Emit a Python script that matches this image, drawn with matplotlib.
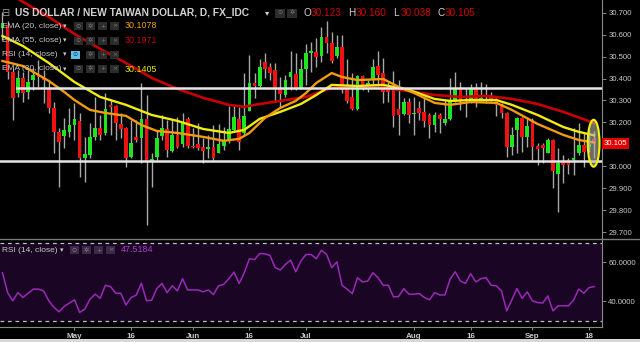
import matplotlib
matplotlib.use("Agg")
import matplotlib.pyplot as plt
import matplotlib.transforms as mtransforms
from matplotlib.patches import Ellipse, Rectangle
from matplotlib.lines import Line2D
import pandas as pd

plt.rcParams['font.family'] = ['Liberation Sans', 'DejaVu Sans']

# daily bars, USD/TWD (FX_IDC)
dates = pd.bdate_range("2017-04-11", "2017-09-19")

opens = [30.630, 30.644, 30.430, 30.334, 30.403, 30.339, 30.393, 30.416, 30.407, 30.357,
         30.266, 30.157, 30.138, 30.157, 30.188, 30.207, 30.038, 30.052, 30.134, 30.175,
         30.152, 30.280, 30.275, 30.193, 30.175, 30.043, 30.134, 30.129, 30.216, 30.020,
         30.043, 30.138, 30.170, 30.070, 30.143, 30.102, 30.216, 30.093, 30.102, 30.088,
         30.079, 30.088, 30.061, 30.093, 30.116, 30.166, 30.216, 30.152, 30.252, 30.380,
         30.366, 30.476, 30.453, 30.439, 30.353, 30.325, 30.407, 30.421, 30.357, 30.444,
         30.517, 30.521, 30.503, 30.589, 30.562, 30.503, 30.544, 30.357, 30.316, 30.261,
         30.412, 30.362, 30.393, 30.457, 30.425, 30.357, 30.357, 30.261, 30.239, 30.293,
         30.239, 30.266, 30.248, 30.234, 30.188, 30.234, 30.198, 30.216, 30.302, 30.357,
         30.298, 30.302, 30.357, 30.302, 30.316, 30.325, 30.307, 30.280, 30.243, 30.088,
         30.166, 30.220, 30.134, 30.211, 30.093, 30.097, 30.061, 30.120, 29.965, 30.015,
         30.029, 30.029, 30.061, 30.097, 30.088, 30.123]
highs = [30.703, 30.660, 30.445, 30.439, 30.430, 30.439, 30.448, 30.485, 30.439, 30.393,
         30.293, 30.175, 30.220, 30.266, 30.289, 30.243, 30.134, 30.198, 30.316, 30.234,
         30.334, 30.302, 30.280, 30.243, 30.179, 30.211, 30.211, 30.380, 30.325, 30.061,
         30.166, 30.234, 30.211, 30.211, 30.225, 30.243, 30.225, 30.175, 30.198, 30.129,
         30.143, 30.188, 30.193, 30.179, 30.275, 30.280, 30.271, 30.425, 30.507, 30.425,
         30.489, 30.517, 30.471, 30.471, 30.407, 30.416, 30.526, 30.517, 30.489, 30.558,
         30.567, 30.585, 30.635, 30.662, 30.612, 30.598, 30.598, 30.489, 30.425, 30.416,
         30.416, 30.393, 30.489, 30.526, 30.494, 30.384, 30.435, 30.393, 30.312, 30.312,
         30.316, 30.298, 30.316, 30.243, 30.248, 30.243, 30.302, 30.403, 30.430, 30.384,
         30.357, 30.375, 30.380, 30.384, 30.375, 30.339, 30.312, 30.289, 30.248, 30.179,
         30.225, 30.225, 30.225, 30.220, 30.107, 30.107, 30.129, 30.125, 30.084, 30.052,
         30.038, 30.175, 30.198, 30.157, 30.166, 30.160]
lows = [30.576, 30.400, 30.211, 30.316, 30.293, 30.307, 30.348, 30.362, 30.289, 30.243,
        30.061, 29.906, 30.084, 30.134, 30.120, 29.952, 29.929, 30.038, 30.120, 30.120,
        30.143, 30.143, 30.120, 30.129, 29.997, 30.038, 30.111, 30.015, 29.733, 29.906,
        30.029, 30.120, 30.043, 30.066, 30.084, 30.088, 30.084, 30.084, 30.075, 30.015,
        30.038, 30.029, 30.061, 30.075, 30.107, 30.157, 30.075, 30.143, 30.252, 30.312,
        30.362, 30.403, 30.393, 30.293, 30.271, 30.316, 30.348, 30.348, 30.353, 30.371,
        30.430, 30.453, 30.476, 30.517, 30.471, 30.494, 30.334, 30.289, 30.257, 30.257,
        30.348, 30.339, 30.371, 30.362, 30.289, 30.293, 30.179, 30.143, 30.234, 30.198,
        30.143, 30.211, 30.179, 30.129, 30.157, 30.152, 30.188, 30.211, 30.293, 30.257,
        30.225, 30.289, 30.271, 30.293, 30.289, 30.298, 30.230, 30.220, 30.043, 30.052,
        30.061, 30.066, 30.088, 30.029, 30.006, 30.015, 30.061, 29.901, 29.792, 29.924,
        29.965, 29.961, 30.052, 29.997, 30.066, 30.038]
closes = [30.653, 30.430, 30.312, 30.403, 30.334, 30.384, 30.416, 30.407, 30.393, 30.266,
          30.157, 30.111, 30.166, 30.188, 30.216, 30.038, 30.056, 30.134, 30.175, 30.143,
          30.261, 30.271, 30.198, 30.170, 30.038, 30.107, 30.120, 30.216, 30.020, 30.034,
          30.129, 30.175, 30.075, 30.143, 30.088, 30.202, 30.093, 30.090, 30.084, 30.070,
          30.088, 30.038, 30.102, 30.116, 30.170, 30.225, 30.111, 30.230, 30.380, 30.366,
          30.453, 30.444, 30.425, 30.357, 30.330, 30.393, 30.430, 30.353, 30.444, 30.517,
          30.526, 30.498, 30.589, 30.562, 30.480, 30.544, 30.348, 30.298, 30.261, 30.412,
          30.357, 30.380, 30.453, 30.416, 30.339, 30.339, 30.230, 30.234, 30.293, 30.234,
          30.243, 30.243, 30.207, 30.188, 30.234, 30.216, 30.216, 30.302, 30.357, 30.298,
          30.296, 30.353, 30.298, 30.312, 30.325, 30.307, 30.280, 30.243, 30.088, 30.143,
          30.220, 30.134, 30.184, 30.088, 30.079, 30.084, 30.120, 29.979, 30.015, 30.006,
          30.006, 30.038, 30.097, 30.066, 30.102, 30.105]

rsi = [54.7, 44.4, 40.2, 44.4, 41.9, 44.1, 46.2, 46.2, 45.3, 40.2,
       36.8, 34.5, 37.3, 39.0, 40.7, 34.2, 35.9, 41.0, 43.6, 41.5,
       48.2, 47.5, 44.1, 44.1, 38.0, 41.9, 43.1, 49.2, 40.2, 40.5,
       46.5, 49.2, 44.4, 47.9, 45.3, 51.6, 45.8, 45.8, 45.8, 44.8,
       45.8, 43.4, 47.9, 48.7, 51.6, 55.0, 49.1, 54.7, 61.9, 61.5,
       64.6, 64.4, 63.6, 57.3, 56.1, 59.0, 61.2, 55.2, 60.7, 64.1,
       64.1, 61.9, 66.3, 64.1, 57.3, 60.3, 48.2, 46.2, 43.9, 52.1,
       49.9, 50.4, 54.7, 52.1, 48.2, 48.2, 42.2, 42.4, 46.5, 43.6,
       43.6, 43.9, 41.9, 40.7, 44.4, 43.2, 43.2, 51.3, 55.2, 50.4,
       49.2, 54.2, 49.9, 51.6, 52.1, 48.2, 47.9, 45.3, 35.0, 40.7,
       46.5, 41.4, 44.8, 40.2, 39.3, 39.0, 42.7, 35.0, 37.6, 37.6,
       37.6, 40.5, 46.2, 44.1, 47.0, 47.5]

# moving averages at some bars (bar number, value)
ema20_bar = [0, 4, 9, 12, 14, 17, 20, 24, 27, 30, 34, 39, 43, 46, 48, 51, 54, 57,
             59, 61, 64, 66, 69, 74, 77, 80, 84, 87, 91, 96, 99, 104, 109, 112, 115]
ema20_val = [30.480, 30.457, 30.389, 30.339, 30.302, 30.257, 30.243, 30.230, 30.188,
             30.161, 30.152, 30.134, 30.116, 30.125, 30.152, 30.220, 30.266, 30.298,
             30.334, 30.380, 30.425, 30.407, 30.393, 30.398, 30.362, 30.334, 30.289,
             30.280, 30.293, 30.289, 30.257, 30.193, 30.143, 30.120, 30.108]
ema30_bar = [0, 4, 9, 14, 19, 24, 29, 34, 39, 44, 47, 50, 54, 58, 61, 64, 69, 74,
             79, 84, 87, 91, 96, 99, 104, 109, 112, 115]
ema30_val = [30.594, 30.548, 30.471, 30.384, 30.316, 30.280, 30.234, 30.207, 30.170,
             30.152, 30.166, 30.216, 30.248, 30.284, 30.325, 30.371, 30.366, 30.371,
             30.348, 30.307, 30.298, 30.302, 30.302, 30.280, 30.234, 30.179, 30.157,
             30.141]
ema55_bar = [0, 4, 9, 14, 19, 24, 29, 34, 39, 44, 47, 49, 54, 59, 64, 69, 74, 79,
             84, 89, 94, 99, 104, 109, 115]
ema55_val = [30.808, 30.749, 30.681, 30.603, 30.535, 30.471, 30.403, 30.353, 30.312,
             30.280, 30.271, 30.280, 30.298, 30.316, 30.357, 30.366, 30.357, 30.343,
             30.325, 30.316, 30.321, 30.307, 30.284, 30.248, 30.197]

ema20_last = 30.1078
ema55_last = 30.1971
ema30_last = 30.1405
rsi_last = 47.5184

resistance = 30.358
support = 30.026

price_ticks = [30.7, 30.6, 30.5, 30.4, 30.3, 30.2, 30.0, 29.9, 29.8, 29.7]
rsi_ticks = [60, 40]
tick_dates = ["2017-05-01", "2017-05-16", "2017-06-01", "2017-06-16", "2017-07-03",
              "2017-08-01", "2017-08-16", "2017-09-01", "2017-09-18"]
tick_labels = ["May", "16", "Jun", "16", "Jul", "Aug", "16", "Sep", "18"]

W, H = 640, 342
def fx(x):
    return x / W
def fy(y):
    return 1 - y / H

GREEN = '#1ee61e'
RED = '#f01212'
WICK = '#a8a8a8'
AXC = '#8a8a8a'
TXT = '#c8c8c8'

fig = plt.figure(figsize=(6.4, 3.42), dpi=100, facecolor='black')
ax = fig.add_axes([0, fy(238), fx(602), 238 / H])
ax2 = fig.add_axes([0, fy(327), fx(602), 88 / H], sharex=ax)
for a in (ax, ax2):
    a.set_facecolor('black')
    for s in a.spines.values():
        s.set_visible(False)
    a.spines['right'].set_visible(True)
    a.spines['right'].set_color(AXC)
    a.spines['right'].set_linewidth(0.8)
ax2.spines['bottom'].set_visible(True)
ax2.spines['bottom'].set_color(AXC)
ax2.spines['bottom'].set_linewidth(0.8)

xs = list(range(len(dates)))

# candles
for x, o, h, l, c in zip(xs, opens, highs, lows, closes):
    col = GREEN if c >= o else RED
    ax.vlines(x, l, h, color=WICK, lw=1.0, zorder=2)
    ax.bar(x, max(abs(c - o), 0.004), bottom=min(o, c), width=0.72, color=col,
           lw=0, zorder=3)

ax.plot(ema55_bar, ema55_val, color='#c80000', lw=1.9, zorder=4)
ax.plot(ema30_bar, ema30_val, color='#f0ec10', lw=1.7, zorder=5)
ax.plot(ema20_bar, ema20_val, color='#f29a10', lw=1.7, zorder=5)

ax.plot([2.8, 116.6], [resistance, resistance], color='#e6e6e6', lw=1.8, zorder=6)
ax.plot([-1, 116.6], [support, support], color='#e6e6e6', lw=1.8, zorder=6)

ax.add_patch(Ellipse((xs[-1] - 0.1, closes[-1]), 2.3, 0.214, facecolor='#b4b4a4',
                     alpha=0.6, edgecolor='none', zorder=7))
ax.add_patch(Ellipse((xs[-1] - 0.1, closes[-1]), 2.3, 0.214, facecolor='none',
                     edgecolor='#f2f20a', lw=1.5, zorder=8))

ax.set_xlim(-0.48, 116.53)
ax.set_ylim(29.673, 30.758)
ax.yaxis.tick_right()
ax.set_yticks(price_ticks)
ax.set_yticklabels([f"{v:.3f}" for v in price_ticks])
ax.tick_params(axis='y', labelcolor=TXT, color=AXC, labelsize=5.6, length=3,
               width=0.7, pad=1.5)
ax.tick_params(axis='x', bottom=False, labelbottom=False)

# last price tag
trans = mtransforms.blended_transform_factory(ax.transAxes, ax.transData)
ax.text(1.003, closes[-1], f"{closes[-1]:.3f}", transform=trans, color='white',
        fontsize=5.6, ha='left', va='center', clip_on=False, zorder=10,
        bbox=dict(boxstyle='square,pad=0.28', fc='#e00000', ec='none'))

# RSI panel
ax2.axhspan(30, 70, color='#1a0624', lw=0, zorder=0)
ax2.axhline(70, color='#bdbdbd', lw=0.9, ls=(0, (3, 3)), zorder=1)
ax2.axhline(30, color='#bdbdbd', lw=0.9, ls=(0, (3, 3)), zorder=1)
ax2.plot(xs, rsi, color='#9a28b8', lw=1.1, zorder=2)
ax2.set_ylim(26.65, 72.1)
ax2.yaxis.tick_right()
ax2.set_yticks(rsi_ticks)
ax2.set_yticklabels([f"{v:.4f}" for v in rsi_ticks])
ax2.tick_params(axis='y', labelcolor=TXT, color=AXC, labelsize=5.6, length=3,
                width=0.7, pad=1.5)
tick_pos = [dates.get_loc(pd.Timestamp(d)) for d in tick_dates]
ax2.set_xticks(tick_pos)
ax2.set_xticklabels(tick_labels)
ax2.tick_params(axis='x', labelcolor=TXT, color=AXC, labelsize=5.8, length=2.5,
                width=0.7, pad=1.5)
for lbl in ax2.get_xticklabels():
    lbl.set_fontweight('bold')

fig.add_artist(Line2D([0, 1], [fy(238.5), fy(238.5)], transform=fig.transFigure,
                      color='#7a7a7a', lw=1.0))
fig.add_artist(Rectangle((0, 0), 1, 3 / H, transform=fig.transFigure,
                         color='#d8d8d8', lw=0))


def icon(x, y, glyph, fc='#2c2c2c', gc='#7a7a7a', w=9, h=8):
    fig.add_artist(Rectangle((fx(x), fy(y + h / 2)), w / W, h / H,
                             transform=fig.transFigure, facecolor=fc,
                             edgecolor='none', zorder=20))
    fig.text(fx(x + w / 2), fy(y), glyph, color=gc, fontsize=4.5, ha='center',
             va='center', family=['DejaVu Sans'], zorder=21)


# header
fig.text(fx(1), fy(13), "⊟", color='#9a9a9a', fontsize=7, va='center',
         family=['DejaVu Sans'])
fig.text(fx(15), fy(13), "US DOLLAR / NEW TAIWAN DOLLAR, D, FX_IDC", color='#d2d2d2',
         fontsize=7.4, fontweight='bold', va='center')
fig.text(fx(265), fy(13), "▾", color='#d2d2d2', fontsize=6, va='center',
         family=['DejaVu Sans'])
icon(275, 13, "⊙", w=10, h=9)
icon(287, 13, "✲", w=10, h=9)
ohlc = [("O", opens[-1], 303), ("H", highs[-1], 348), ("L", lows[-1], 393),
        ("C", closes[-1], 437)]
for k, v, x in ohlc:
    fig.text(fx(x), fy(13), k, color='#d2d2d2', fontsize=7.2, va='center')
    fig.text(fx(x + 8), fy(13), f"{v:.3f}", color='#d40000', fontsize=7.2, va='center')

rows = [("EMA (20, close)", f"{ema20_last:.4f}", '#f0a010', 26),
        ("EMA (55, close)", f"{ema55_last:.4f}", '#c80000', 40.5),
        ("RSI (14, close)", None, None, 54.5),
        ("EMA (30, close)", f"{ema30_last:.4f}", '#e8e810', 69)]
for name, val, col, y in rows:
    fig.text(fx(2), fy(y), name, color=TXT, fontsize=6.0, va='center', zorder=20)
    fig.text(fx(63), fy(y), "▾", color=TXT, fontsize=5, va='center',
             family=['DejaVu Sans'], zorder=20)
    if val is None:
        icon(71, y, "⊙", fc='#5bc0eb', gc='#103040')
    else:
        icon(74, y, "⊙")
    icon(86, y, "✲")
    icon(98, y, "+")
    icon(110, y, "×")
    if val is not None:
        fig.text(fx(125), fy(y), val, color=col, fontsize=6.4, va='center', zorder=20)

fig.text(fx(2), fy(250), "RSI (14, close)", color=TXT, fontsize=6.0, va='center', zorder=20)
fig.text(fx(60), fy(250), "▾", color=TXT, fontsize=5, va='center',
         family=['DejaVu Sans'], zorder=20)
icon(70, 250, "⊙", fc='#3a2a48', gc='#8a7a98')
icon(82, 250, "✲", fc='#3a2a48', gc='#8a7a98')
icon(94, 250, "+", fc='#3a2a48', gc='#8a7a98')
icon(106, 250, "×", fc='#3a2a48', gc='#8a7a98')
fig.text(fx(121), fy(250), f"{rsi_last:.4f}", color='#b03cd0', fontsize=6.4,
         va='center', zorder=20)

fig.savefig("out.png", dpi=100, facecolor='black')
